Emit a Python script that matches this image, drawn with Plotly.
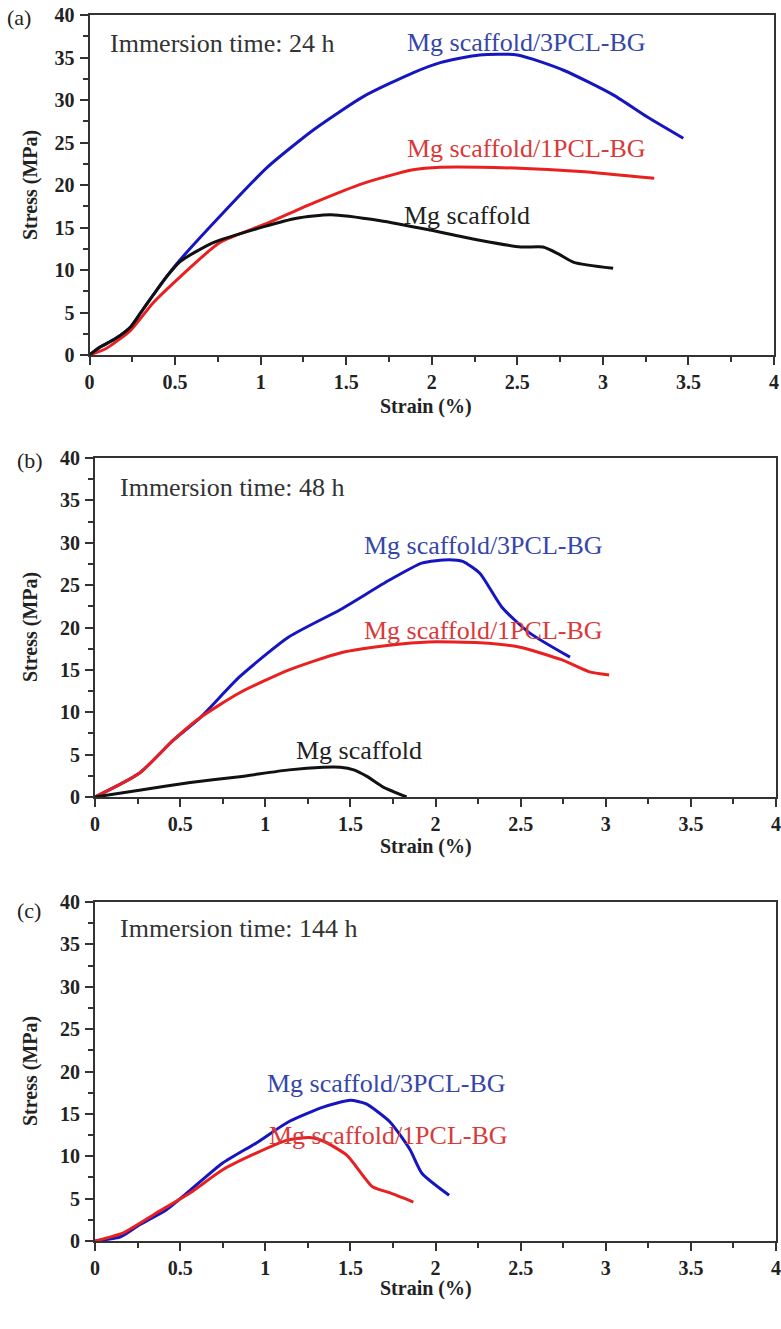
import plotly.graph_objects as go

W, H = 781, 1329

# ---------------- data ----------------
# Panel (a) 24 h
a_3pcl_x = [0, 0.06, 0.15, 0.24, 0.30, 0.37, 0.45, 0.53, 0.78, 1.04, 1.31, 1.60, 1.89, 2.05, 2.28, 2.50, 2.77, 3.06, 3.26, 3.47]
a_3pcl_y = [0, 0.9, 1.9, 3.3, 5.0, 7.0, 9.2, 11.2, 16.7, 22.1, 26.5, 30.4, 33.2, 34.4, 35.3, 35.3, 33.5, 30.6, 28.0, 25.5]
a_1pcl_x = [0, 0.10, 0.24, 0.37, 0.53, 0.76, 1.04, 1.31, 1.60, 1.89, 2.05, 2.48, 2.87, 3.30]
a_1pcl_y = [0, 0.8, 2.9, 6.1, 9.2, 13.2, 15.5, 17.9, 20.2, 21.8, 22.1, 22.0, 21.6, 20.8]
a_mg_x = [0, 0.06, 0.15, 0.24, 0.30, 0.37, 0.45, 0.53, 0.72, 1.02, 1.21, 1.41, 1.70, 1.99, 2.28, 2.52, 2.65, 2.74, 2.83, 3.06]
a_mg_y = [0, 0.9, 1.9, 3.3, 5.0, 7.0, 9.2, 11.0, 13.2, 15.1, 16.1, 16.5, 15.8, 14.7, 13.5, 12.7, 12.7, 11.9, 10.9, 10.2]

# Panel (b) 48 h
b_3pcl_x = [0, 0.26, 0.46, 0.62, 0.85, 1.14, 1.44, 1.73, 1.92, 2.08, 2.16, 2.26, 2.39, 2.55, 2.79]
b_3pcl_y = [0, 2.8, 6.7, 9.4, 14.2, 18.9, 22.1, 25.6, 27.6, 28.0, 27.8, 26.4, 22.4, 19.4, 16.5]
b_1pcl_x = [0, 0.26, 0.46, 0.62, 0.85, 1.14, 1.44, 1.73, 1.96, 2.26, 2.49, 2.74, 2.90, 3.02]
b_1pcl_y = [0, 2.8, 6.7, 9.4, 12.3, 15.0, 17.0, 17.9, 18.3, 18.2, 17.7, 16.2, 14.8, 14.4]
b_mg_x = [0, 0.26, 0.56, 0.85, 1.14, 1.34, 1.44, 1.52, 1.60, 1.69, 1.83]
b_mg_y = [0, 0.8, 1.7, 2.4, 3.2, 3.5, 3.5, 3.2, 2.4, 1.2, 0]

# Panel (c) 144 h
c_3pcl_x = [0, 0.15, 0.26, 0.42, 0.56, 0.75, 0.95, 1.14, 1.34, 1.50, 1.59, 1.73, 1.85, 1.92, 2.08]
c_3pcl_y = [0, 0.5, 1.9, 3.7, 6.0, 9.2, 11.6, 14.1, 15.8, 16.6, 16.2, 14.1, 10.8, 8.0, 5.4]
c_1pcl_x = [0, 0.17, 0.36, 0.56, 0.75, 0.95, 1.13, 1.26, 1.34, 1.48, 1.63, 1.73, 1.87]
c_1pcl_y = [0, 1.0, 3.3, 5.7, 8.4, 10.4, 11.9, 12.2, 11.8, 10.1, 6.4, 5.7, 4.6]

x_tick_vals = [0, 0.5, 1, 1.5, 2, 2.5, 3, 3.5, 4]
x_tick_text = ["0", "0.5", "1", "1.5", "2", "2.5", "3", "3.5", "4"]
y_tick_vals = [0, 5, 10, 15, 20, 25, 30, 35, 40]
y_tick_text = ["0", "5", "10", "15", "20", "25", "30", "35", "40"]

panel_letters = ["(a)", "(b)", "(c)"]
immersion_labels = ["Immersion time: 24 h", "Immersion time: 48 h", "Immersion time: 144 h"]
name_3pcl = "Mg scaffold/3PCL-BG"
name_1pcl = "Mg scaffold/1PCL-BG"
name_mg = "Mg scaffold"
x_title = "Strain (%)"
y_title = "Stress (MPa)"

# ---------------- style ----------------
BLUE = "#1616c0"
RED = "#e82020"
BLACK = "#111111"
BLUE_TXT = "#3646a8"
RED_TXT = "#d83a3a"
FONT = "Liberation Serif"
BFONT = "Times New Roman, Liberation Serif, Times, serif"


def px(x):
    return x / W


def py(y):
    return 1 - y / H


fig = go.Figure()

series = [
    (1, a_3pcl_x, a_3pcl_y, BLUE), (1, a_1pcl_x, a_1pcl_y, RED), (1, a_mg_x, a_mg_y, BLACK),
    (2, b_3pcl_x, b_3pcl_y, BLUE), (2, b_1pcl_x, b_1pcl_y, RED), (2, b_mg_x, b_mg_y, BLACK),
    (3, c_3pcl_x, c_3pcl_y, BLUE), (3, c_1pcl_x, c_1pcl_y, RED),
]
for k, xs, ys, col in series:
    sfx = "" if k == 1 else str(k)
    fig.add_trace(go.Scatter(x=xs, y=ys, mode="lines", line=dict(color=col, width=3, shape="spline", smoothing=0.6),
                             xaxis="x" + sfx, yaxis="y" + sfx, showlegend=False, hoverinfo="skip"))

# panel pixel geometry: (left, right, top, bottom)
panels = [(89.5, 774, 15, 355), (95, 776, 458, 797), (95, 776, 902, 1241)]

layout = dict(
    width=W, height=H, margin=dict(l=0, r=0, t=0, b=0, autoexpand=False),
    paper_bgcolor="white", plot_bgcolor="white", showlegend=False,
    font=dict(family=FONT, color="#222"),
)
axis_common = dict(showgrid=False, zeroline=False, showline=True, mirror=True, automargin=False,
                   linecolor="#333", linewidth=2, ticks="outside", tickwidth=2,
                   tickcolor="#333", ticklen=8,
                   tickfont=dict(family=BFONT, size=20, color="#222", weight="bold"))
for i, (l, r, t, b) in enumerate(panels):
    sfx = "" if i == 0 else str(i + 1)
    layout["xaxis" + sfx] = dict(axis_common, domain=[px(l), px(r)], range=[0, 4],
                                 anchor="y" + sfx, tickvals=x_tick_vals, ticktext=x_tick_text,
                                 ticklabelstandoff=0,
                                 minor=dict(ticks="outside", ticklen=5, tickwidth=2, tickcolor="#333", dtick=0.25))
    layout["yaxis" + sfx] = dict(axis_common, domain=[py(b), py(t)], range=[0, 40],
                                 anchor="x" + sfx, tickvals=y_tick_vals, ticktext=y_tick_text,
                                 ticklabelstandoff=1,
                                 minor=dict(ticks="outside", ticklen=5, tickwidth=2, tickcolor="#333", dtick=2.5))
fig.update_layout(**layout)

ann = []
title_font = dict(family=BFONT, size=20, color="#222", weight="bold")
label_font = dict(family=FONT, size=26, color="#333")
y_title_centers = [185, 627, 1071]
x_title_centers = [406, 847, 1288]
letter_pos = [(5, 17), (15, 461), (15, 910)]
imm_pos = [(108, 44), (118, 487), (118, 928)]
for i in range(3):
    ann.append(dict(x=px(30), y=py(y_title_centers[i]), xref="paper", yref="paper", text=y_title,
                    textangle=-90, showarrow=False, font=title_font, xanchor="center", yanchor="middle"))
    ann.append(dict(x=px(426), y=py(x_title_centers[i]), xref="paper", yref="paper", text=x_title,
                    showarrow=False, font=title_font, xanchor="center", yanchor="middle"))
    ann.append(dict(x=px(letter_pos[i][0]), y=py(letter_pos[i][1]), xref="paper", yref="paper",
                    text=panel_letters[i], showarrow=False, font=dict(family=FONT, size=22, color="#222"),
                    xanchor="left", yanchor="middle"))
    ann.append(dict(x=px(imm_pos[i][0]), y=py(imm_pos[i][1]), xref="paper", yref="paper",
                    text=immersion_labels[i], showarrow=False, font=label_font,
                    xanchor="left", yanchor="middle"))

series_labels = [
    (405, 43, name_3pcl, BLUE_TXT), (405, 148, name_1pcl, RED_TXT), (402, 215, name_mg, "#222"),
    (362, 545, name_3pcl, BLUE_TXT), (362, 630, name_1pcl, RED_TXT), (294, 750, name_mg, "#222"),
    (265, 1083, name_3pcl, BLUE_TXT), (267, 1135, name_1pcl, RED_TXT),
]
for x, y, txt, col in series_labels:
    ann.append(dict(x=px(x), y=py(y), xref="paper", yref="paper", text=txt, showarrow=False,
                    font=dict(family=FONT, size=26, color=col), xanchor="left", yanchor="middle"))
fig.update_layout(annotations=ann)

fig.write_html("out.html", config={"displayModeBar": False, "staticPlot": True},
               post_script="document.body.style.margin='0';document.body.style.padding='0';")
